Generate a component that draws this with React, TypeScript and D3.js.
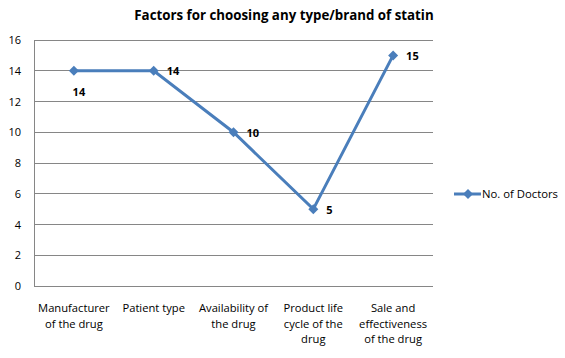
import React from "react";
import * as d3 from "d3";

const categories = [
  ["Manufacturer", "of the drug"],
  ["Patient type"],
  ["Availability of", "the drug"],
  ["Product life", "cycle of the", "drug"],
  ["Sale and", "effectiveness", "of the drug"],
];
const doctors = [14, 14, 10, 5, 15];
const labelSide = ["below", "right", "right", "right", "right"];
const yTicks = [0, 2, 4, 6, 8, 10, 12, 14, 16];

const W = 565;
const H = 358;
const plot = { left: 34, right: 433, top: 40, bottom: 286 };
const blue = "#4A7EBB";
const font = "'Open Sans', 'Liberation Sans', sans-serif";

const App = () => {
  const x = d3
    .scaleBand()
    .domain(categories.map((_, i) => String(i)))
    .range([plot.left, plot.right]);
  const y = d3.scaleLinear().domain([0, 16]).range([plot.bottom, plot.top]);
  const cx = (i: number) => (x(String(i)) as number) + x.bandwidth() / 2;

  const line = d3
    .line<number>()
    .x((_, i) => cx(i))
    .y(d => y(d));

  const diamond = (px: number, py: number, r: number) =>
    `M${px},${py - r}L${px + r},${py}L${px},${py + r}L${px - r},${py}Z`;

  return (
    <svg width={W} height={H} style={{ position: "absolute", left: 0, top: 0 }}>
      <rect width={W} height={H} fill="white" />
      <text
        x={284}
        y={20}
        textAnchor="middle"
        fontFamily={font}
        fontWeight="bold"
        fontSize={13.3}
        fill="#000"
      >
        Factors for choosing any type/brand of statin
      </text>

      {yTicks.map(t => (
        <g key={t}>
          <line
            x1={plot.left}
            x2={plot.right}
            y1={y(t)}
            y2={y(t)}
            stroke="#868686"
            strokeWidth={1}
            shapeRendering="crispEdges"
          />
          <text
            x={21}
            y={y(t) + 4}
            textAnchor="end"
            fontFamily={font}
            fontSize={11}
            fill="#000"
          >
            {t}
          </text>
        </g>
      ))}
      <line
        x1={plot.left}
        x2={plot.left}
        y1={plot.top}
        y2={plot.bottom}
        stroke="#868686"
        shapeRendering="crispEdges"
      />

      {categories.map((lines, i) => (
        <text
          key={i}
          textAnchor="middle"
          fontFamily={font}
          fontSize={11.2}
          fill="#000"
        >
          {lines.map((l, j) => (
            <tspan key={j} x={cx(i)} y={312 + j * 15.5}>
              {l}
            </tspan>
          ))}
        </text>
      ))}

      <path d={line(doctors) || ""} fill="none" stroke={blue} strokeWidth={3} />
      {doctors.map((d, i) => (
        <path key={i} d={diamond(cx(i), y(d), 5)} fill={blue} />
      ))}

      {doctors.map((d, i) => (
        <text
          key={i}
          x={labelSide[i] === "below" ? cx(i) + 5 : cx(i) + 13}
          y={labelSide[i] === "below" ? y(d) + 25 : y(d) + 4.5}
          textAnchor={labelSide[i] === "below" ? "middle" : "start"}
          fontFamily={font}
          fontWeight="bold"
          fontSize={11}
          fill="#000"
        >
          {d}
        </text>
      ))}

      <line x1={454} x2={481} y1={194} y2={194} stroke={blue} strokeWidth={3} />
      <path d={diamond(468, 194, 5)} fill={blue} />
      <text x={482} y={198} fontFamily={font} fontSize={11.3} fill="#000">
        No. of Doctors
      </text>
    </svg>
  );
};

export default App;
